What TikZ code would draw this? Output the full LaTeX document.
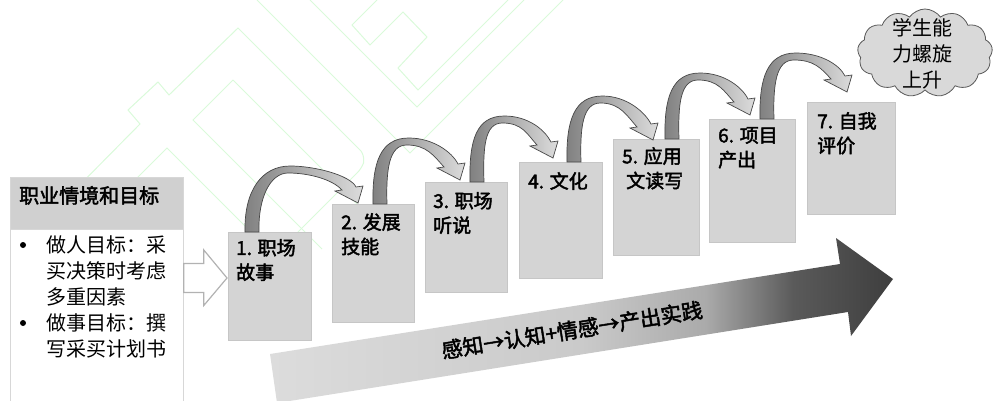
\documentclass[tikz,border=0pt]{standalone}
\usepackage{fontspec}
\setmainfont{Noto Sans CJK SC}
\newfontfamily\medfont[FakeBold=2.2]{Noto Sans CJK SC}
\usetikzlibrary{shapes.symbols,calc}
\definecolor{boxfill}{RGB}{212,212,212}
\definecolor{boxline}{RGB}{198,198,198}
\definecolor{hdrfill}{RGB}{208,208,208}
\definecolor{lightline}{RGB}{215,215,215}
\definecolor{wm}{RGB}{218,250,218}
\definecolor{arrdark}{RGB}{128,128,128}
\definecolor{arrlight}{RGB}{220,220,220}
\definecolor{arrline}{RGB}{70,70,70}
\definecolor{ba1}{RGB}{220,220,220}
\definecolor{ba2}{RGB}{202,202,202}
\definecolor{ba3}{RGB}{170,170,170}
\definecolor{ba4}{RGB}{90,90,90}
\definecolor{ba5}{RGB}{62,62,62}
\pgfdeclarehorizontalshading{bigarrow}{100bp}{color(0bp)=(ba1); color(25bp)=(ba1); color(50bp)=(ba2); color(60bp)=(ba3); color(67bp)=(ba4); color(75bp)=(ba5); color(100bp)=(ba5)}
\newcommand\curvarr[2]{%
  \path[carrow] (-7,0) .. controls (-8,-42) and ({0.36*#1-28},-66) .. ({0.36*#1},-66)
    .. controls ({0.36*#1+24},-66) and ({#1-8},{#2-28}) .. ({#1-2},{#2-16})
    -- ({#1+5},{#2-17}) -- (#1,#2) -- ({#1-23},{#2-12}) -- ({#1-16},{#2-13})
    .. controls ({#1-26},{#2-24}) and ({0.36*#1+18},-59) .. ({0.36*#1-2},-59)
    .. controls ({0.36*#1-20},-59) and (6,-34) .. (7,0) -- cycle;}
\tikzset{
  stepbox/.style={draw=boxline, fill=boxfill, line width=0.8pt, anchor=north west, inner sep=0pt},
  steptext/.style={anchor=north west, align=left, inner sep=0pt, font=\medfont\fontsize{19}{24.5}\selectfont},
  carrow/.style={left color=arrdark, right color=arrlight, draw=arrline, line width=0.7pt},
  wmline/.style={draw=wm, line width=1pt},
  hollow/.style={draw=black!30, fill=white, line width=1.2pt, line join=miter},
  bulletdot/.style={circle, fill=black, inner sep=0pt, minimum size=6pt},
}
\begin{document}
\begin{tikzpicture}[x=1pt,y=-1pt]
\useasboundingbox (0,0) rectangle (994,401);
% watermark
\draw[wmline] (60,205) -- (140,124) -- (128,110) -- (158,82) -- (169,95) -- (238,28) -- (361,151) [rounded corners=6pt] -- (365,158) -- (362,168) -- (280,250);
\draw[wmline] (233,80) -- (193,120) -- (322,249);
\draw[wmline] (233,80) -- (400,247);
\draw[wmline] (95,220) -- (167,148) -- (305,286);
\draw[wmline] (257,0) -- (410,153) -- (563,0);
\draw[wmline] (310,0) -- (417,107) -- (524,0);
\draw[wmline] (377,0) -- (352,25) -- (370,45) -- (403,12) -- (427,37) -- (398,68) -- (418,90) -- (508,0);
% left box
\node (body) [draw=lightline, fill=white, line width=0.8pt, anchor=north west, minimum width=173pt, minimum height=200pt, inner sep=0pt] at (10,229) {};
\node (hdr) [draw=lightline, fill=hdrfill, line width=0.8pt, anchor=north west, minimum width=173pt, minimum height=52pt, inner sep=0pt] at (10,177) {};
\node (hdrtext) [anchor=west, inner sep=0pt, font=\medfont\fontsize{20}{24}\selectfont] at ([shift={(9,-8)}]hdr.west) {职业情境和目标};
\node (bodytext) [anchor=north west, align=left, inner sep=0pt, font=\fontsize{20}{26}\selectfont] at (46,235) {做人目标：采\\买决策时考虑\\多重因素\\做事目标：撰\\写采买计划书};
\node (bul1) [bulletdot] at (23,245) {};
\node (bul2) [bulletdot] at (23,323) {};
% big arrow
\path[shading=bigarrow] (270,354) -- (840,264) -- (836,238) -- (893,279) -- (851,336) -- (848,312) -- (277,403) -- cycle;
\node (flow) [rotate=9, inner sep=0pt, font=\medfont\fontsize{21}{24}\selectfont] at (572,330) {感知→认知+情感→产出实践};
% steps
\node (s1) [stepbox, minimum width=83pt, minimum height=108pt] at (228,232) {};
\node (s2) [stepbox, minimum width=82pt, minimum height=118pt] at (332,204) {};
\node (s3) [stepbox, minimum width=82pt, minimum height=110pt] at (425,182) {};
\node (s4) [stepbox, minimum width=83pt, minimum height=116pt] at (519,162) {};
\node (s5) [stepbox, minimum width=86pt, minimum height=116pt] at (613,139) {};
\node (s6) [stepbox, minimum width=86pt, minimum height=123pt] at (709,119) {};
\node (s7) [stepbox, minimum width=88pt, minimum height=112pt] at (807,102) {};
\node (t1) [steptext] at ([shift={(8,7)}]s1.north west) {1. 职场\\故事};
\node (t2) [steptext] at ([shift={(9,9)}]s2.north west) {2. 发展\\技能};
\node (t3) [steptext] at ([shift={(8,10)}]s3.north west) {3. 职场\\听说};
\node (t4) [steptext] at ([shift={(9,10)}]s4.north west) {4. 文化};
\node (t5) [steptext] at ([shift={(9,8)}]s5.north west) {5. 应用\\\hspace{4pt}文读写};
\node (t6) [steptext] at ([shift={(9,8)}]s6.north west) {6. 项目\\产出};
\node (t7) [steptext] at ([shift={(10,10)}]s7.north west) {7. 自我\\评价};
% hollow arrow
\coordinate (ha) at ([shift={(0,49)}]body.north east);
\draw[hollow] ([shift={(0,-14.5)}]ha) -- ([shift={(20,-14.5)}]ha) -- ([shift={(20,-28)}]ha) -- ([xshift=-1pt]s1.west |- ha) -- ([shift={(20,27.5)}]ha) -- ([shift={(20,14.5)}]ha) -- ([shift={(0,14.5)}]ha) -- cycle;
% curved arrows
\begin{scope}[shift={($(s1.north west)+(24,0)$)}]\curvarr{106}{-29}\end{scope}
\begin{scope}[shift={($(s2.north west)+(48,0)$)}]\curvarr{80}{-24}\end{scope}
\begin{scope}[shift={($(s3.north west)+(52,0)$)}]\curvarr{76}{-24}\end{scope}
\begin{scope}[shift={($(s4.north west)+(55,0)$)}]\curvarr{79}{-22}\end{scope}
\begin{scope}[shift={($(s5.north west)+(59,0)$)}]\curvarr{78}{-24}\end{scope}
\begin{scope}[shift={($(s6.north west)+(58,0)$)}]\curvarr{80}{-27}\end{scope}
% cloud
\node (cloud) [cloud, cloud puffs=13, cloud puff arc=110, aspect=1.5, draw=black!65, fill=black!15, line width=0.8pt, minimum width=135pt, minimum height=88pt, inner sep=0pt] at (925,53) {};
\node (ctext) [align=center, inner sep=0pt, font=\fontsize{20}{26}\selectfont] at (922,54) {学生能\\力螺旋\\上升};
\end{tikzpicture}
\end{document}
